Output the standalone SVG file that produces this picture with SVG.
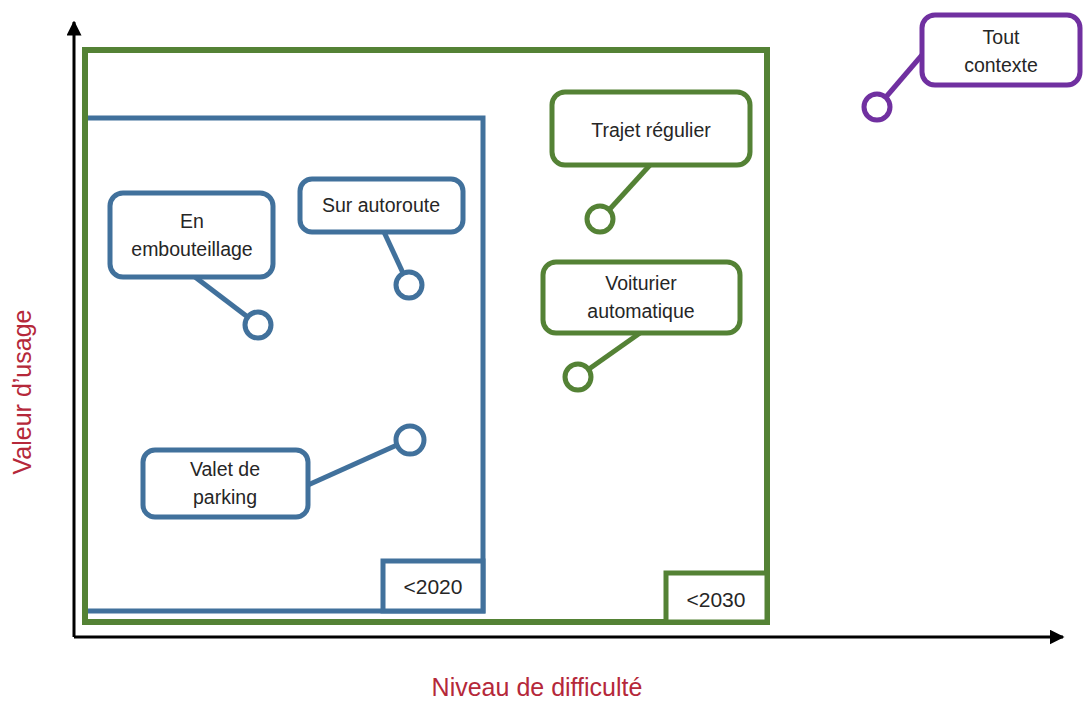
<svg xmlns="http://www.w3.org/2000/svg" width="1083" height="705" viewBox="0 0 1083 705">
<defs>
<marker id="arr" viewBox="0 0 10 10" refX="9" refY="5" markerWidth="5" markerHeight="5" orient="auto" markerUnits="strokeWidth">
<path d="M0,0 L10,5 L0,10 z" fill="#000"/>
</marker>
<style>
.t{font-family:"Liberation Sans",Arial,sans-serif;font-size:19.5px;fill:#262626;text-anchor:middle}
.ax{font-family:"Liberation Sans",Arial,sans-serif;font-size:25px;fill:#b5283a;text-anchor:middle}
.blue{stroke:#41719c;fill:#fff;stroke-width:5}
.green{stroke:#548235;fill:#fff;stroke-width:5}
.purple{stroke:#7030a0;fill:#fff;stroke-width:5}
.ln{fill:none;stroke-width:5}
</style>
</defs>
<rect width="1083" height="705" fill="#fff"/>
<g id="zones">
<polyline points="88,118 483,118 483,611 88,611" fill="none" stroke="#41719c" stroke-width="5"/>
<rect x="85" y="50" width="682" height="572" fill="none" stroke="#548235" stroke-width="6"/>
<rect x="383" y="561" width="100" height="50" fill="#fff" stroke="#41719c" stroke-width="5"/>
<text class="t" x="433" y="594" style="font-size:21px">&lt;2020</text>
<rect x="666" y="573" width="101" height="49" fill="#fff" stroke="#548235" stroke-width="5"/>
<text class="t" x="716" y="607" style="font-size:21px">&lt;2030</text>
</g>
<g id="axes" stroke="#000" stroke-width="3">
<line x1="74" y1="637" x2="74" y2="22" marker-end="url(#arr)"/>
<line x1="74" y1="637" x2="1063" y2="637" marker-end="url(#arr)"/>
</g>
<text class="ax" x="537" y="696">Niveau de difficulté</text>
<text class="ax" transform="translate(31,392) rotate(-90)">Valeur d’usage</text>
<g id="connectors" class="ln">
<line x1="195" y1="277" x2="249" y2="318" stroke="#41719c"/>
<line x1="384" y1="232" x2="403" y2="273" stroke="#41719c"/>
<line x1="308" y1="485" x2="397" y2="445" stroke="#41719c"/>
<line x1="650" y1="165" x2="609" y2="210" stroke="#548235"/>
<line x1="640" y1="333" x2="589" y2="369" stroke="#548235"/>
<line x1="922" y1="55" x2="886" y2="97" stroke="#7030a0"/>
</g>
<g id="n_embouteillage">
<rect class="blue" x="110" y="193" width="163" height="84" rx="13"/>
<text class="t" x="192" y="228">En</text>
<text class="t" x="192" y="256">embouteillage</text>
<circle class="blue" cx="258" cy="325" r="13"/>
</g>
<g id="n_autoroute">
<rect class="blue" x="300" y="179" width="163" height="53" rx="12"/>
<text class="t" x="381" y="212">Sur autoroute</text>
<circle class="blue" cx="409" cy="285" r="13"/>
</g>
<g id="n_valet">
<rect class="blue" x="143" y="450" width="165" height="67" rx="12"/>
<text class="t" x="225" y="476">Valet de</text>
<text class="t" x="225" y="504">parking</text>
<circle class="blue" cx="410" cy="440" r="14"/>
</g>
<g id="n_trajet">
<rect class="green" x="552" y="92" width="198" height="73" rx="13"/>
<text class="t" x="651" y="137">Trajet régulier</text>
<circle class="green" cx="600" cy="219" r="13"/>
</g>
<g id="n_voiturier">
<rect class="green" x="543" y="262" width="197" height="71" rx="13"/>
<text class="t" x="641" y="290">Voiturier</text>
<text class="t" x="641" y="318">automatique</text>
<circle class="green" cx="578" cy="377" r="13"/>
</g>
<g id="n_tout">
<rect class="purple" x="922" y="15" width="158" height="70" rx="13"/>
<text class="t" x="1001" y="44">Tout</text>
<text class="t" x="1001" y="72">contexte</text>
<circle class="purple" cx="877" cy="107" r="13"/>
</g>
</svg>
